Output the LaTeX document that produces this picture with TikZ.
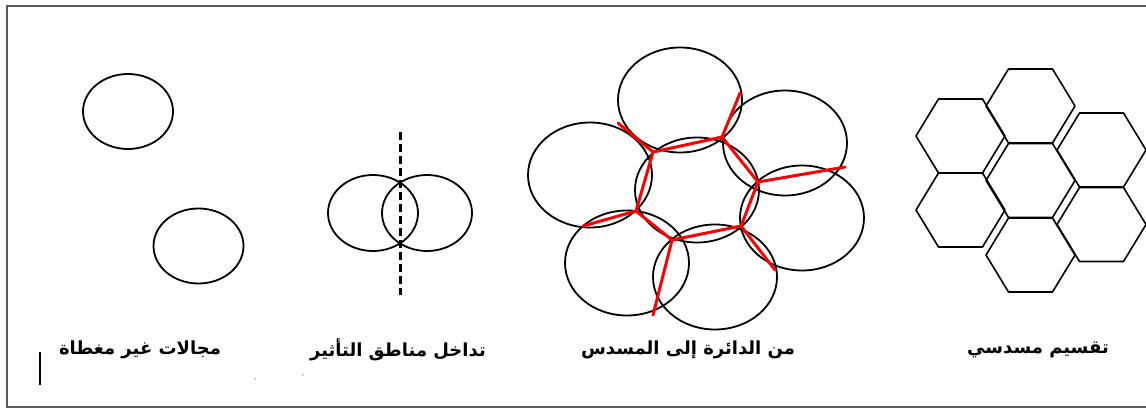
\documentclass[tikz,border=0pt]{standalone}
\usepackage{fontspec}
\newfontfamily\arabicfont[Script=Arabic]{DejaVu Sans}
\TeXXeTstate=1
\usetikzlibrary{shapes.geometric}
\begin{document}
\begin{tikzpicture}[x=1pt,y=-1pt,
  frameline/.style={draw=black!65, line width=1.5pt},
  ring/.style={draw=black, line width=1.8pt, ellipse, inner sep=0pt, outer sep=0pt},
  smallring/.style={ring, minimum width=90pt, minimum height=75pt},
  bigring/.style={ring, minimum width=124pt, minimum height=105pt},
  seam/.style={draw=red, line width=3pt, line cap=round, line join=round},
  splitline/.style={draw=black, line width=3pt, dash pattern=on 8pt off 4pt},
  hexline/.style={draw=black, line width=1.6pt, line join=round},
  caption/.style={font=\arabicfont\bfseries\fontsize{18}{21}\selectfont, inner sep=0pt},
  hexcell/.pic={\draw[hexline] (-44.5,0) -- (-22,-37) -- (22,-37) -- (44.5,0) -- (22,37) -- (-22,37) -- cycle;}
]
\useasboundingbox (0,0) rectangle (1146,409);

% outer frame (open on the right)
\draw[frameline] (1146,6) -- (7,6) -- (7,407) -- (1146,407);

% panel 1: two separate coverage areas
\node[smallring] (p1a) at (128,111.5) {};
\node[smallring] (p1b) at (198.5,246) {};

% panel 2: two overlapping areas split by a boundary
\node[smallring, minimum height=76pt] (p2a) at (373,213) {};
\node[smallring, minimum height=76pt] (p2b) at (427,213) {};
\coordinate (d1) at (400,132);
\coordinate (d2) at (400,295);
\draw[splitline] (d1) -- (d2);

% panel 3: seven circles and the hexagon formed by their overlaps
\node[bigring] (cT)  at (680,100) {};
\node[bigring] (cUR) at (785,143) {};
\node[bigring] (cL)  at (590,175) {};
\node[bigring] (cC)  at (697,190) {};
\node[bigring] (cR)  at (802,218) {};
\node[bigring] (cLL) at (627,263) {};
\node[bigring] (cB)  at (715,277) {};

\coordinate (v1) at (653,152);
\coordinate (v2) at (722,137);
\coordinate (v3) at (758,182);
\coordinate (v4) at (741,226);
\coordinate (v5) at (672,240);
\coordinate (v6) at (636,211);
\coordinate (o1) at (618,123);
\coordinate (o2) at (740,93);
\coordinate (o3) at (845,167);
\coordinate (o4) at (775,270);
\coordinate (o5) at (653,315);
\coordinate (o6) at (583,226);
\draw[seam] (v1) -- (v2) -- (v3) -- (v4) -- (v5) -- (v6) -- cycle;
\draw[seam] (v1) -- (o1);
\draw[seam] (v2) -- (o2);
\draw[seam] (v3) -- (o3);
\draw[seam] (v4) -- (o4);
\draw[seam] (v5) -- (o5);
\draw[seam] (v6) -- (o6);

% panel 4: hexagonal tiling
\coordinate (hUL) at (960.5,136);
\coordinate (hLL) at (960.5,210);
\coordinate (hT)  at (1030.5,106);
\coordinate (hC)  at (1030.5,180.5);
\coordinate (hB)  at (1030.5,255);
\coordinate (hUR) at (1101.5,150);
\coordinate (hLR) at (1101.5,224.5);
\foreach \h in {hUL,hLL,hT,hC,hB,hUR,hLR} \pic at (\h) {hexcell};

% captions
\node[caption] (t1) at (140,350) {\beginR مجالات غير مغطاة\endR};
\node[caption] (t2) at (398,350) {\beginR تداخل مناطق التأثير\endR};
\node[caption] (t3) at (688,350) {\beginR من الدائرة إلى المسدس\endR};
\node[caption] (t4) at (1038,350) {\beginR تقسيم مسدسي\endR};

% small marks near the bottom
\draw[black, line width=1.5pt] (40,352) -- (40,385);
\fill[black!35] (255,379) circle (0.8pt);
\fill[black!35] (303,375) circle (0.8pt);
\end{tikzpicture}
\end{document}
